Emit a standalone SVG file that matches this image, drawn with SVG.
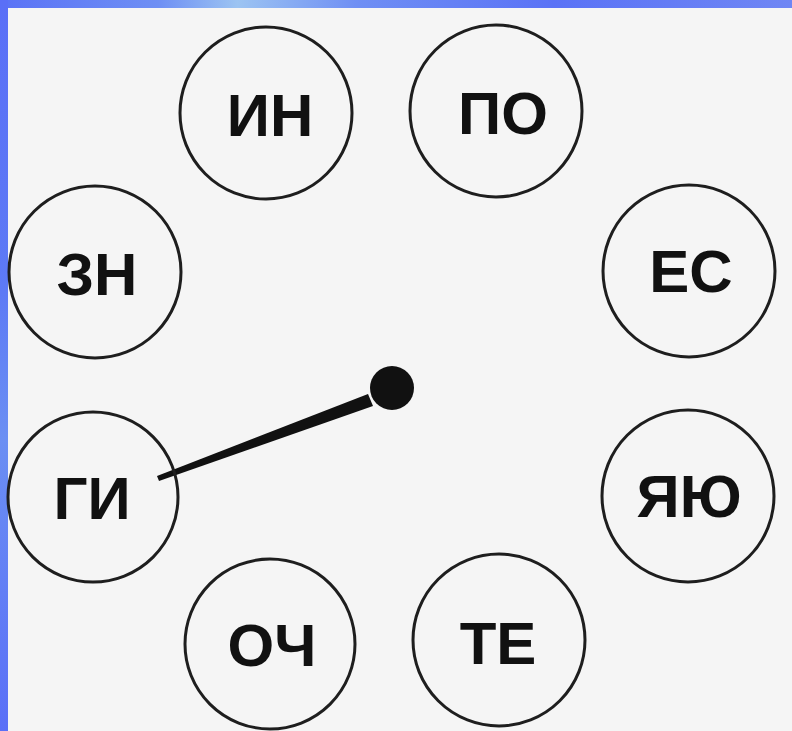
<svg xmlns="http://www.w3.org/2000/svg" width="792" height="731" viewBox="0 0 792 731">
<defs>
<linearGradient id="topband" x1="0" y1="0" x2="1" y2="0">
<stop offset="0" stop-color="#5a72f6"/>
<stop offset="0.2" stop-color="#6e8ff4"/>
<stop offset="0.3" stop-color="#9cc4f2"/>
<stop offset="0.45" stop-color="#6f8ff4"/>
<stop offset="0.7" stop-color="#5a72f6"/>
<stop offset="1" stop-color="#6f86f4"/>
</linearGradient>
<linearGradient id="leftband" x1="0" y1="0" x2="0" y2="1">
<stop offset="0" stop-color="#5a6ff7"/>
<stop offset="0.4" stop-color="#5d7af5"/>
<stop offset="0.6" stop-color="#6b8ff3"/>
<stop offset="1" stop-color="#5a6ff7"/>
</linearGradient>
</defs>
<style>
.node circle { fill: none; stroke: #1e1e1e; stroke-width: 3; }
.node text { font-family: "Liberation Sans", Arial, sans-serif; font-weight: bold; font-size: 60px; fill: #111; text-anchor: middle; }
</style>
<rect x="0" y="0" width="792" height="731" fill="#f5f5f5"/>
<rect x="0" y="0" width="792" height="8" fill="url(#topband)"/>
<rect x="0" y="0" width="8" height="731" fill="url(#leftband)"/>
<g id="connectors">
<polygon points="157,476 159,481 373,406 368,394" fill="#111"/>
<circle cx="392" cy="388" r="22" fill="#111"/>
</g>
<g id="node-in" class="node"><circle cx="266" cy="113" r="86"/><text x="270" y="136">ИН</text></g>
<g id="node-po" class="node"><circle cx="496" cy="111" r="86"/><text x="503" y="134">ПО</text></g>
<g id="node-zn" class="node"><circle cx="95" cy="272" r="86"/><text x="97" y="295">ЗН</text></g>
<g id="node-es" class="node"><circle cx="689" cy="271" r="86"/><text x="691" y="292">ЕС</text></g>
<g id="node-yayu" class="node"><circle cx="688" cy="496" r="86"/><text x="689" y="517">ЯЮ</text></g>
<g id="node-gi" class="node"><circle cx="93" cy="497" r="85"/><text x="92" y="519">ГИ</text></g>
<g id="node-och" class="node"><circle cx="270" cy="644" r="85"/><text x="272" y="666">ОЧ</text></g>
<g id="node-te" class="node"><circle cx="499" cy="640" r="86"/><text x="498" y="664">ТЕ</text></g>
</svg>
